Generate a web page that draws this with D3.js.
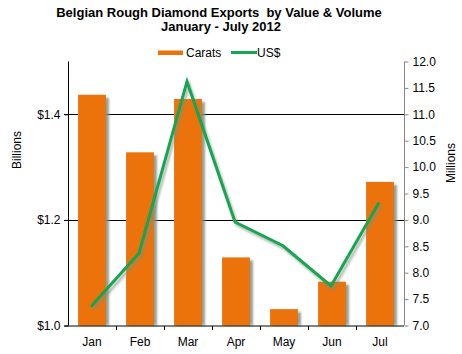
<!DOCTYPE html>
<html>
<head>
<meta charset="utf-8">
<script src="https://cdn.jsdelivr.net/npm/d3@7"></script>
<style>
  body { margin: 0; background: #fff; }
  text { font-family: "Liberation Sans", Arial, sans-serif; }
</style>
</head>
<body>
<div id="canvas"></div>
<script>
"use strict"

/* Data */
let months = ["Jan", "Feb", "Mar", "Apr", "May", "Jun", "Jul"];
let barValues = [1.437, 1.328, 1.429, 1.129, 1.031, 1.083, 1.272];   // Billions (left axis)
let lineValues = [7.36, 8.37, 11.62, 8.96, 8.51, 7.75, 9.33];        // Millions (right axis)
let leftTicks = [1.0, 1.2, 1.4];
let rightTicks = [7.0, 7.5, 8.0, 8.5, 9.0, 9.5, 10.0, 10.5, 11.0, 11.5, 12.0];

/* Drawing config */
let svgWidth = 462;
let svgHeight = 354;
let plotLeft = 68, plotRight = 404, plotTop = 61.5, plotBottom = 325.5;
let orange = "#EC720C";
let green = "#16A550";
let shadow = "#7f907f";

let svg = d3.select("#canvas")
    .append("svg")
    .attr("width", svgWidth)
    .attr("height", svgHeight);

/* soft shadow */
let blur = svg.append("defs").append("filter")
    .attr("id", "soft")
    .attr("x", "-20%").attr("y", "-20%")
    .attr("width", "140%").attr("height", "140%");
blur.append("feGaussianBlur").attr("stdDeviation", 1.1);

let xScale = d3.scaleBand()
    .domain(months)
    .range([plotLeft, plotRight])
    .paddingInner(0.42)
    .paddingOuter(0.21);

let xBand = d3.scaleBand()
    .domain(months)
    .range([plotLeft, plotRight]);

let yLeft = d3.scaleLinear()
    .domain([1.0, 1.5])
    .range([plotBottom, plotTop]);

let yRight = d3.scaleLinear()
    .domain([7.0, 12.0])
    .range([plotBottom, plotTop]);

/* Title */
svg.append("text")
    .attr("x", 219).attr("y", 17)
    .attr("text-anchor", "middle")
    .attr("font-size", "13px").attr("font-weight", "bold")
    .style("white-space", "pre")
    .text("Belgian Rough Diamond Exports  by Value & Volume");
svg.append("text")
    .attr("x", 221).attr("y", 31)
    .attr("text-anchor", "middle")
    .attr("font-size", "13px").attr("font-weight", "bold")
    .text("January - July 2012");

/* Legend */
svg.append("rect")
    .attr("x", 158).attr("y", 50.5)
    .attr("width", 25).attr("height", 4.5)
    .attr("fill", orange);
svg.append("text")
    .attr("x", 186).attr("y", 57)
    .attr("font-size", "12px")
    .text("Carats");
svg.append("line")
    .attr("x1", 231).attr("x2", 257)
    .attr("y1", 52.5).attr("y2", 52.5)
    .attr("stroke", green).attr("stroke-width", 3);
svg.append("text")
    .attr("x", 257).attr("y", 57)
    .attr("font-size", "12px")
    .text("US$");

/* Gridlines (with outward ticks on left) */
svg.selectAll(".grid")
    .data(leftTicks.slice(1))
    .join("line")
    .attr("x1", plotLeft - 4).attr("x2", plotRight)
    .attr("y1", d => Math.round(yLeft(d)) + 0.5)
    .attr("y2", d => Math.round(yLeft(d)) + 0.5)
    .attr("stroke", "#000");

/* Bars with shadow */
svg.selectAll(".barShadow")
    .data(barValues)
    .join("rect")
    .attr("x", (d, i) => xScale(months[i]) + 3)
    .attr("y", d => yLeft(d) + 3)
    .attr("width", xScale.bandwidth())
    .attr("height", d => plotBottom - yLeft(d) - 3)
    .attr("fill", shadow)
    .attr("opacity", 0.85)
    .attr("filter", "url(#soft)");

svg.selectAll(".bar")
    .data(barValues)
    .join("rect")
    .attr("x", (d, i) => xScale(months[i]))
    .attr("y", d => yLeft(d))
    .attr("width", xScale.bandwidth())
    .attr("height", d => plotBottom - yLeft(d))
    .attr("fill", orange);

/* Line with shadow */
let line = d3.line()
    .x((d, i) => xBand(months[i]) + xBand.bandwidth() / 2 - 1)
    .y(d => yRight(d));

svg.append("path")
    .datum(lineValues)
    .attr("d", line)
    .attr("transform", "translate(2,3)")
    .attr("fill", "none")
    .attr("stroke", shadow)
    .attr("stroke-opacity", 0.6)
    .attr("stroke-width", 3)
    .attr("filter", "url(#soft)");

svg.append("path")
    .datum(lineValues)
    .attr("d", line)
    .attr("fill", "none")
    .attr("stroke", green)
    .attr("stroke-width", 3);

/* Left axis */
let leftAxis = d3.axisLeft(yLeft)
    .tickValues(leftTicks)
    .tickSize(4)
    .tickFormat(d => "$" + d3.format(".1f")(d));
let gLeft = svg.append("g")
    .attr("transform", "translate(" + (plotLeft + 0.5) + ",0)")
    .call(leftAxis);
gLeft.select(".domain").attr("d", "M0," + plotTop + "V" + plotBottom);

/* Right axis */
let rightAxis = d3.axisRight(yRight)
    .tickValues(rightTicks)
    .tickSize(4)
    .tickFormat(d3.format(".1f"));
let gRight = svg.append("g")
    .attr("transform", "translate(" + (plotRight + 0.5) + ",0)")
    .call(rightAxis);
gRight.select(".domain").attr("d", "M0," + plotTop + "V" + plotBottom).attr("stroke", "#888");
gRight.selectAll(".tick line").attr("stroke", "#888");

/* Bottom axis */
let bottomAxis = d3.axisBottom(xBand)
    .tickSize(0)
    .tickPadding(11);
let gBottom = svg.append("g")
    .attr("transform", "translate(0," + (plotBottom + 0.5) + ")")
    .call(bottomAxis);
gBottom.select(".domain").attr("d", "M" + (plotLeft - 4) + ",0H" + plotRight);
gBottom.selectAll(".sep")
    .data(months.slice(1))
    .join("line")
    .attr("x1", d => Math.round(xBand(d)) + 0.5)
    .attr("x2", d => Math.round(xBand(d)) + 0.5)
    .attr("y1", 0).attr("y2", 4)
    .attr("stroke", "#000");

svg.selectAll(".tick text")
    .attr("font-family", "'Liberation Sans', Arial, sans-serif")
    .attr("font-size", "12px")
    .attr("fill", "#000");
gLeft.selectAll(".tick text").attr("x", -8);
gRight.selectAll(".tick text").attr("x", 8);

/* Axis titles */
svg.append("text")
    .attr("transform", "translate(21,150) rotate(-90)")
    .attr("text-anchor", "middle")
    .attr("font-size", "12px")
    .text("Billions");
svg.append("text")
    .attr("transform", "translate(455,163) rotate(-90)")
    .attr("text-anchor", "middle")
    .attr("font-size", "12px")
    .text("Millions");
</script>
</body>
</html>
